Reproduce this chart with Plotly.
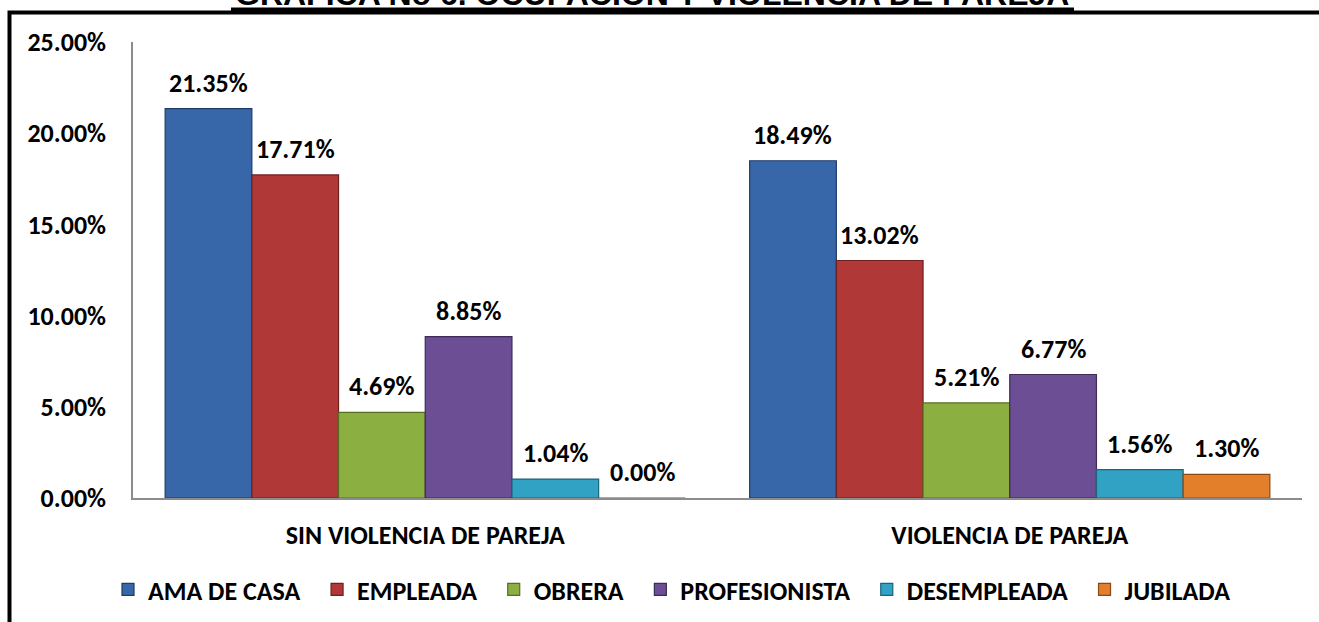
import plotly.graph_objects as go

# ---------------- data ----------------
categories = ["SIN VIOLENCIA DE PAREJA", "VIOLENCIA DE PAREJA"]
series_names = ["AMA DE CASA", "EMPLEADA", "OBRERA", "PROFESIONISTA", "DESEMPLEADA", "JUBILADA"]
ama_de_casa = [21.35, 18.49]
empleada = [17.71, 13.02]
obrera = [4.69, 5.21]
profesionista = [8.85, 6.77]
desempleada = [1.04, 1.56]
jubilada = [0.00, 1.30]
y_ticks = [0, 5, 10, 15, 20, 25]
y_tick_labels = ["0.00%", "5.00%", "10.00%", "15.00%", "20.00%", "25.00%"]
title_text = "GRAFICA No 6. OCUPACION Y VIOLENCIA DE PAREJA"

series_values = [ama_de_casa, empleada, obrera, profesionista, desempleada, jubilada]
colors = ["#3767A8", "#B03836", "#8BAF40", "#6B4E93", "#31A2C3", "#E37F2B"]
edges = ["#1E3C66", "#6E1F1E", "#566E22", "#3E2B58", "#1B6479", "#8A4A16"]
legend_pad = [2, 2, 2, 2, 2, 0]  # non-breaking spaces after legend names (spacing only)

# ---------------- layout geometry ----------------
W, H = 1319, 622
L, T = 133, 42
R = W - 1302
B = H - 498
PW, PH = W - L - R, H - T - B
BARGAP = 0.11
bar_px = PW / len(categories) * (1 - BARGAP) / len(series_names)

def px_x(p):  # page x pixel -> paper
    return (p - L) / PW

def px_y(p):  # page y pixel -> paper
    return (H - B - p) / PH

FONT = "Carlito, 'Liberation Sans Narrow', 'Arial Narrow', 'Liberation Sans', sans-serif"

fig = go.Figure()
for name, vals, c, e, pad in zip(series_names, series_values, colors, edges, legend_pad):
    fig.add_trace(go.Bar(
        name=name + "\u00a0" * pad, x=categories, y=vals,
        marker=dict(color=c, line=dict(color=e, width=1.2)),
    ))

annotations = []
n = len(series_names)
for i, vals in enumerate(series_values):
    for j, v in enumerate(vals):
        annotations.append(dict(
            x=categories[j], y=v, xref="x", yref="y",
            text=f"{v:.2f}%", showarrow=False,
            xshift=(i - (n - 1) / 2) * bar_px, yshift=8,
            yanchor="bottom", xanchor="center",
            font=dict(family=FONT, size=26, color="black", weight="bold"),
        ))

# title (mostly cut off at top of image, as in the reference)
annotations.append(dict(
    x=px_x(652), y=px_y(14), xref="paper", yref="paper",
    text=title_text, showarrow=False, xanchor="center", yanchor="bottom",
    font=dict(family="'Liberation Sans', Arial, sans-serif", size=32, color="black", weight="bold"),
))

shapes = [
    # outer frame
    dict(type="rect", xref="paper", yref="paper",
         x0=px_x(9.5), x1=px_x(1319 + 20), y0=px_y(12.5), y1=px_y(622 + 20),
         line=dict(color="black", width=4), fillcolor="rgba(0,0,0,0)", layer="above"),
    # title underline
    dict(type="line", xref="paper", yref="paper",
         x0=px_x(231), x1=px_x(1074), y0=px_y(10), y1=px_y(10),
         line=dict(color="black", width=5)),
]

fig.update_layout(
    width=W, height=H,
    margin=dict(l=L, r=R, t=T, b=B, pad=0, autoexpand=False),
    paper_bgcolor="white", plot_bgcolor="white",
    barmode="group", bargap=BARGAP, bargroupgap=0,
    font=dict(family=FONT, size=26, color="black", weight="bold"),
    showlegend=True,
    legend=dict(orientation="h", x=px_x(108), y=px_y(566), xanchor="left", yanchor="top",
                font=dict(family=FONT, size=26, color="black", weight="bold"),
                itemwidth=30, bgcolor="rgba(0,0,0,0)"),
    annotations=annotations,
    shapes=shapes,
)
fig.update_yaxes(range=[0, 25], tickvals=y_ticks, ticktext=y_tick_labels,
                 showgrid=False, zeroline=False, showline=True, linecolor="#8C8C8C",
                 linewidth=1.5, ticks="", ticklabelstandoff=20,
                 tickfont=dict(family=FONT, size=26, color="black", weight="bold"))
fig.update_xaxes(showline=True, linecolor="#8C8C8C", linewidth=2, ticks="",
                 ticklabelstandoff=13,
                 tickfont=dict(family=FONT, size=26, color="black", weight="bold"))

fig.write_html("out.html", config={"displayModeBar": False},
               post_script="document.body.style.margin='0px';")
